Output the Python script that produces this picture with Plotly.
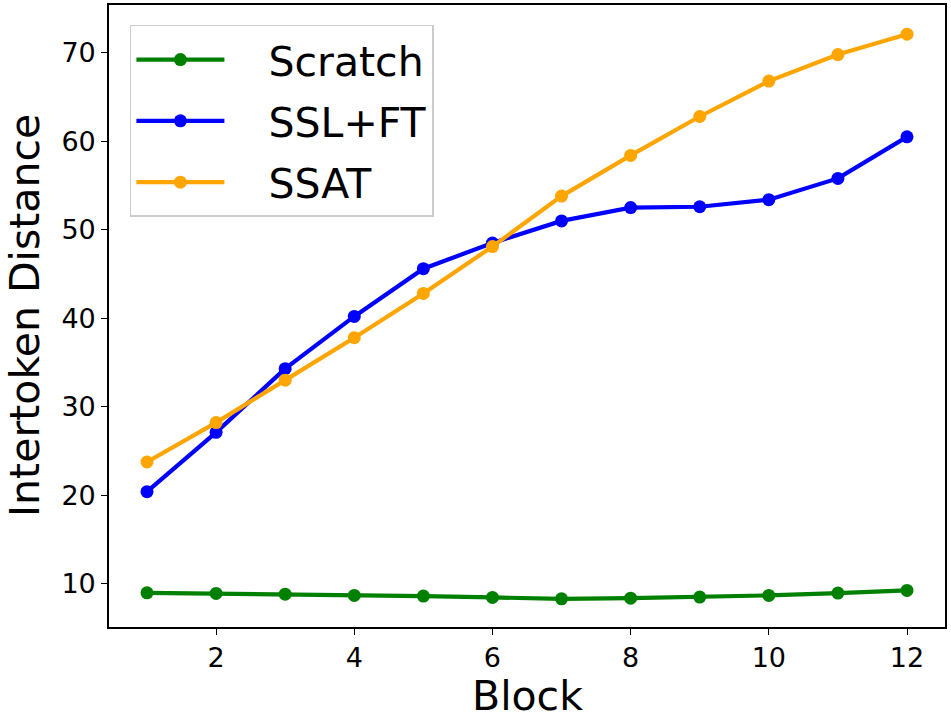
import plotly.graph_objects as go

blocks = list(range(1, 13))
scratch = [8.96, 8.89, 8.81, 8.67, 8.59, 8.44, 8.29, 8.36, 8.48, 8.67, 8.93, 9.23]
ssl_ft = [20.4, 27.1, 34.3, 40.2, 45.6, 48.5, 51.0, 52.5, 52.6, 53.4, 55.8, 60.5]
ssat = [23.75, 28.2, 33.0, 37.8, 42.8, 48.1, 53.8, 58.4, 62.8, 66.8, 69.8, 72.1]

series = [
    ("Scratch", scratch, "#008000"),
    ("SSL+FT", ssl_ft, "#0000ff"),
    ("SSAT", ssat, "#ffa500"),
]

FONT = "DejaVu Sans"
PAD = "\u00a0\u00a0\u00a0"  # spazio tra simbolo e testo in legenda

fig = go.Figure()
for name, vals, color in series:
    fig.add_trace(go.Scatter(
        x=blocks,
        y=vals,
        mode="lines+markers",
        name=PAD + name,
        legendgroup=name,
        line=dict(color=color, width=4.2),
        marker=dict(color=color, size=13),
    ))

axis_common = dict(
    showgrid=False,
    zeroline=False,
    showline=True,
    linecolor="black",
    linewidth=1.6,
    mirror=True,
    ticks="outside",
    ticklen=6,
    tickwidth=1.3,
    tickcolor="black",
    tickfont=dict(family=FONT, size=27, color="black"),
    automargin=False,
)

fig.update_xaxes(range=[0.45, 12.55], tickvals=[2, 4, 6, 8, 10, 12], **axis_common)
fig.update_yaxes(range=[5.1, 75.4], tickvals=[10, 20, 30, 40, 50, 60, 70], **axis_common)

# titoli degli assi come annotazioni per posizionarli con precisione
fig.add_annotation(
    text="Block", xref="paper", yref="paper", x=0.5, y=0,
    xanchor="center", yanchor="top", yshift=-43, showarrow=False,
    font=dict(family=FONT, size=41, color="black"),
)
fig.add_annotation(
    text="Intertoken Distance", xref="paper", yref="paper", x=0, y=0.5,
    xanchor="center", yanchor="middle", xshift=-84, textangle=-90, showarrow=False,
    font=dict(family=FONT, size=41, color="black"),
)

fig.update_layout(
    width=951,
    height=716,
    margin=dict(l=109, r=6, t=5, b=89),
    plot_bgcolor="white",
    paper_bgcolor="white",
    font=dict(family=FONT, color="black"),
    legend=dict(
        x=0.025,
        y=0.968,
        xanchor="left",
        yanchor="top",
        bgcolor="rgba(255,255,255,0.8)",
        bordercolor="#cccccc",
        borderwidth=1.5,
        font=dict(family=FONT, size=41, color="black"),
        itemwidth=88,
        tracegroupgap=5,
    ),
)

# togli il margine del body così la figura occupa tutta la finestra
fig.write_html(
    "out.html",
    config={"displayModeBar": False},
    post_script="document.body.style.margin='0';",
)
